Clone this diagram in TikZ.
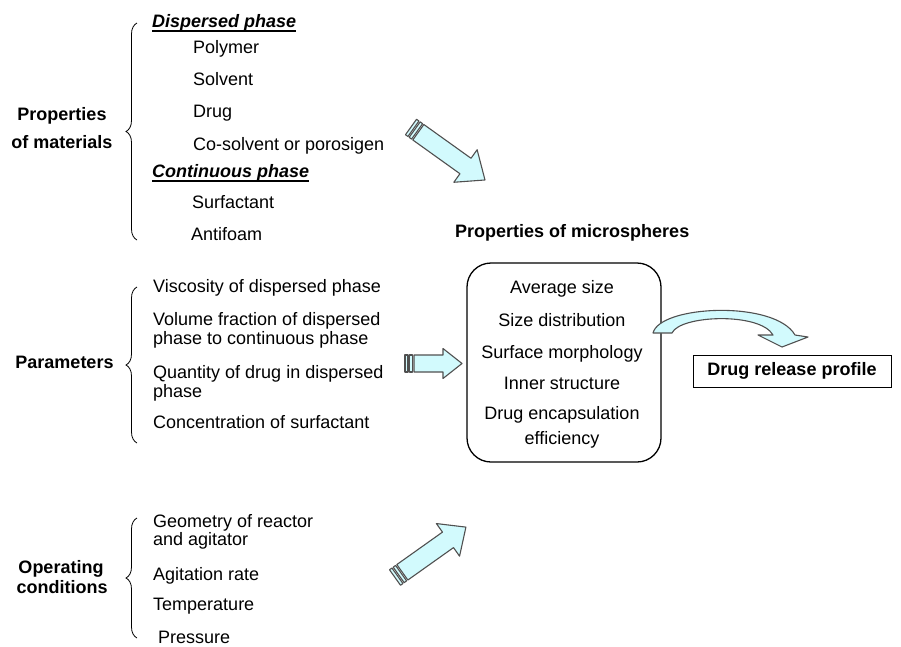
\documentclass[tikz,border=0pt]{standalone}
\usepackage{fontspec}
\setmainfont{Liberation Sans}
\usetikzlibrary{decorations.pathreplacing}
\definecolor{arrowfill}{RGB}{210,250,253}
\definecolor{arrowline}{RGB}{80,80,80}
\newcommand\myblockarrow[6]{%
\begin{scope}[shift={(#1)},rotate=#2]
 \filldraw[barrow] (0,-#6) rectangle (3,#6);
 \filldraw[barrow] (4.5,-#6) rectangle (7.5,#6);
 \filldraw[barrow] (9,-#6) -- ({#3-#4},-#6) -- ({#3-#4},-#5) -- (#3,0) -- ({#3-#4},#5) -- ({#3-#4},#6) -- (9,#6) -- cycle;
\end{scope}}
\begin{document}
\begin{tikzpicture}[x=1pt,y=-1pt,
  every node/.style={inner sep=0pt, font=\fontsize{18}{20}\selectfont},
  item/.style={anchor=base west},
  lbl/.style={anchor=base, font=\fontsize{18}{20}\selectfont\bfseries},
  cen/.style={anchor=base},
  barrow/.style={fill=arrowfill, draw=arrowline, line width=1.1pt, line join=round},
  brc/.style={decorate, decoration={brace, amplitude=11pt}, line width=0.8pt},
  ul/.style={line width=1.4pt}]
\useasboundingbox (0,0) rectangle (901,646);

% ---------- Properties of materials ----------
\node[lbl] (pm1) at (62,120) {Properties};
\node[lbl] (pm2) at (62,148) {of materials};
\draw[brc] (137,240) -- (137,23);
\node[item, font=\fontsize{18}{20}\selectfont\bfseries\itshape] (dp) at (152,27) {Dispersed phase};
\draw[ul] ([yshift=-4pt]dp.base west) -- ([yshift=-4pt]dp.base east);
\node[item] (poly) at (193,53) {Polymer};
\node[item] (solv) at (193,85) {Solvent};
\node[item] (drug) at (193,117) {Drug};
\node[item] (cosol) at (193,150) {Co-solvent or porosigen};
\node[item, font=\fontsize{18}{20}\selectfont\bfseries\itshape] (cp) at (152,177) {Continuous phase};
\draw[ul] ([yshift=-4pt]cp.base west) -- ([yshift=-4pt]cp.base east);
\node[item] (surf) at (192,208) {Surfactant};
\node[item] (anti) at (191,240) {Antifoam};

% ---------- Parameters ----------
\node[lbl] (par) at (64.5,368) {Parameters};
\draw[brc] (137,443) -- (137,287);
\node[item] (visc) at (153,292) {Viscosity of dispersed phase};
\node[item] (vol1) at (153,325) {Volume fraction of dispersed};
\node[item] (vol2) at (153,344) {phase to continuous phase};
\node[item] (qty1) at (153,378) {Quantity of drug in dispersed};
\node[item] (qty2) at (153,397) {phase};
\node[item] (conc) at (153,428) {Concentration of surfactant};

% ---------- Operating conditions ----------
\node[lbl] (op1) at (61,573) {Operating};
\node[lbl] (op2) at (62,593) {conditions};
\draw[brc] (137,638) -- (137,518);
\node[item] (geo1) at (153,527) {Geometry of reactor};
\node[item] (geo2) at (153,545) {and agitator};
\node[item] (agit) at (153,580) {Agitation rate};
\node[item] (temp) at (153,610) {Temperature};
\node[item] (pres) at (158,643) {Pressure};

% ---------- Properties of microspheres ----------
\node[item, font=\fontsize{18}{20}\selectfont\bfseries] (pms) at (455,237) {Properties of microspheres};
\node[draw, line width=1.3pt, rounded corners=24pt, minimum width=194pt, minimum height=199pt] (msbox) at (564,362.5) {};
\node[cen] (m1) at (562,293) {Average size};
\node[cen] (m2) at (562,326) {Size distribution};
\node[cen] (m3) at (562,358) {Surface morphology};
\node[cen] (m4) at (562,389) {Inner structure};
\node[cen] (m5) at (562,419) {Drug encapsulation};
\node[cen] (m6) at (562,444) {efficiency};

% ---------- Drug release profile ----------
\node[draw, line width=1pt, minimum width=198pt, minimum height=32pt, font=\fontsize{18}{20}\selectfont\bfseries] (drp) at (792,371) {Drug release profile};

% ---------- Block arrows ----------
\myblockarrow{411,127}{-35.6}{91}{24}{20}{9.5}
\myblockarrow{405,363.5}{0}{57}{19}{15}{8.5}
\myblockarrow{395,577.5}{35.4}{87}{22}{20}{9.5}

% ---------- Curved arrow ----------
\filldraw[barrow] (653,333) .. controls (660,305) and (775,300) .. (795,335)
  -- (808,337) -- (782,347) -- (758,335) -- (773,335)
  .. controls (760,312) and (680,315) .. (672,333) -- cycle;
\end{tikzpicture}
\end{document}
